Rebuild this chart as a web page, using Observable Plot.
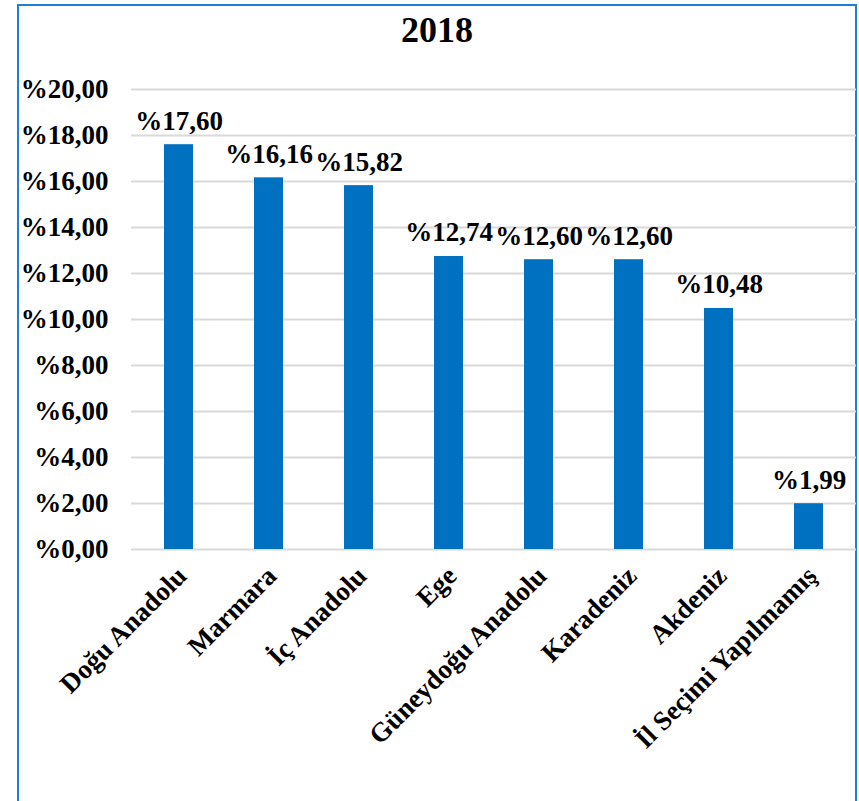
<!DOCTYPE html>
<html><head><meta charset="utf-8">
<script src="https://cdn.jsdelivr.net/npm/d3@7"></script>
<script src="https://cdn.jsdelivr.net/npm/@observablehq/plot@0.6"></script>
<style>
body{margin:0;background:#fff;width:859px;height:801px;overflow:hidden;position:relative;font-family:"Liberation Serif","Times New Roman",serif;}
#frame{position:absolute;left:17px;top:4px;width:836px;height:806px;border:2px solid #1f7fd4;}
#title{position:absolute;left:17px;width:840px;top:9px;text-align:center;font-size:36px;font-weight:bold;color:#000;}
#chart{position:absolute;left:0;top:0;}
#chart svg, #chart svg text{font-family:"Liberation Serif","Times New Roman",serif !important;font-weight:bold;}
</style></head>
<body>
<div id="frame"></div>
<div id="title">2018</div>
<div id="chart"></div>
<script>
const categories = ["Doğu Anadolu","Marmara","İç Anadolu","Ege","Güneydoğu Anadolu","Karadeniz","Akdeniz","İl Seçimi Yapılmamış"];
const values = [17.60,16.16,15.82,12.74,12.60,12.60,10.48,1.99];
const yTicks = [0,2,4,6,8,10,12,14,16,18,20];

const data = categories.map((c,i)=>({region:c, value:values[i]}));
const fmt = v => "%" + v.toFixed(2).replace(".", ",");
const serif = "Liberation Serif";

const chart = Plot.plot({
  width: 859,
  height: 801,
  marginLeft: 131,
  marginRight: 3,
  marginTop: 89,
  marginBottom: 252,
  style: {fontFamily: serif, fontWeight: "bold", fontSize: "27px", color: "#000", background: "transparent", overflow: "visible"},
  x: {domain: categories, paddingInner: 0.68, paddingOuter: 0.34, align: 0.5},
  y: {domain: [0, 20]},
  marks: [
    Plot.gridY(yTicks, {stroke: "#d9d9d9", strokeOpacity: 1, strokeWidth: 2}),
    Plot.barY(data, {x: "region", y: "value", fill: "#0070c0"}),
    Plot.text(data, {x: "region", y: "value", text: d => fmt(d.value), lineAnchor: "bottom", dy: -15, fill: "#000", fontSize: 27, fontWeight: "bold", fontFamily: serif}),
    Plot.axisY(yTicks, {tickSize: 0, tickPadding: 23, tickFormat: fmt, fontSize: 27, fontWeight: "bold", fontFamily: serif, label: null}),
    Plot.axisX({tickSize: 0, tickRotate: -45, tickPadding: 22, dx: 3, fontSize: 27, fontWeight: "bold", fontFamily: serif, label: null})
  ]
});
document.getElementById("chart").appendChild(chart);
</script>
</body></html>
